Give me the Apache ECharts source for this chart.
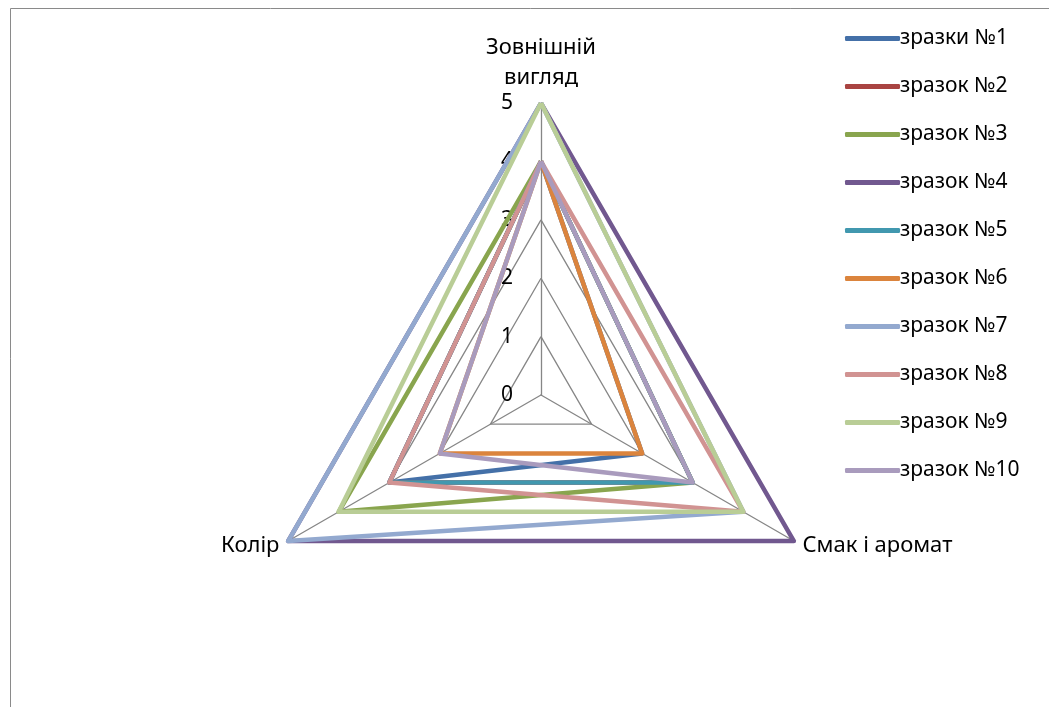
<!DOCTYPE html>
<html>
<head>
<meta charset="utf-8">
<script src="https://cdn.jsdelivr.net/npm/echarts@6/dist/echarts.min.js"></script>
<style>
  html, body { margin: 0; padding: 0; background: #fff; }
  #radarchart { width: 1049px; height: 707px; }
</style>
</head>
<body>
<div id="radarchart"></div>
<script>
// показники (порядок ECharts: верх, ліво, право)
var indicatorNames = ['Зовнішній\nвигляд', 'Колір', 'Смак і аромат'];
var tickLabels = ['0', '1', '2', '3', '4', '5'];
var seriesNames = ['зразки №1', 'зразок №2', 'зразок №3', 'зразок №4', 'зразок №5',
                   'зразок №6', 'зразок №7', 'зразок №8', 'зразок №9', 'зразок №10'];
// значення: [Зовнішній вигляд, Колір, Смак і аромат]
var s1 = [4, 3, 2];
var s2 = [4, 3, 3];
var s3 = [4, 4, 3];
var s4 = [5, 5, 5];
var s5 = [4, 3, 3];
var s6 = [4, 2, 2];
var s7 = [5, 5, 4];
var s8 = [4, 3, 4];
var s9 = [5, 4, 4];
var s10 = [4, 2, 3];
var colors = ['#4470A8', '#A94442', '#89A54E', '#71588F', '#4198AF',
              '#DB843D', '#93A9CF', '#D19392', '#B9CD96', '#A99BBD'];

;(function(){
    var chart = echarts.init(document.getElementById('radarchart'));
    var values = [s1, s2, s3, s4, s5, s6, s7, s8, s9, s10];
    var font = 'Noto Sans';

    var seriesList = values.map(function (v, i) {
        return {
            name: seriesNames[i],
            type: 'radar',
            symbol: 'none',
            z: 2 + i,
            lineStyle: { width: 4.5, color: colors[i] },
            itemStyle: { color: colors[i] },
            data: [{ name: seriesNames[i], value: v }]
        };
    });

    var option = {
        animation: false,
        color: colors,
        graphic: [{
            type: 'rect',
            shape: { x: 10.5, y: 8.5, width: 1200, height: 900 },
            style: { fill: 'none', stroke: '#8a8a8a', lineWidth: 1 },
            silent: true
        }],
        legend: {
            orient: 'vertical',
            left: 840,
            top: 19,
            itemWidth: 55,
            itemHeight: 5,
            itemGap: 19,
            icon: 'roundRect',
            textStyle: { fontFamily: font, fontSize: 21, lineHeight: 29, color: '#000', padding: [0, 0, 0, -5] },
            data: seriesNames
        },
        radar: {
            center: [541, 395],
            radius: 292,
            shape: 'polygon',
            splitNumber: 5,
            startAngle: 90,
            axisName: {
                color: '#000',
                fontFamily: font,
                fontSize: 22,
                lineHeight: 30
            },
            nameGap: 10,
            splitLine: { lineStyle: { color: '#868686', width: 1.3 } },
            splitArea: { show: false },
            axisLine: { lineStyle: { color: '#868686', width: 1.3 } },
            axisLabel: { show: false },
            indicator: indicatorNames.map(function (n, i) {
                var ind = { name: n, min: 0, max: 5 };
                if (i === 0) {
                    ind.axisLabel = {
                        show: true,
                        color: '#000',
                        fontFamily: font,
                        fontSize: 21,
                        margin: 28,
                        formatter: function (val) {
                            return tickLabels[Math.round(val)];
                        }
                    };
                }
                return ind;
            })
        },
        series: seriesList
    };

    chart.setOption(option);
})()
</script>
</body>
</html>
